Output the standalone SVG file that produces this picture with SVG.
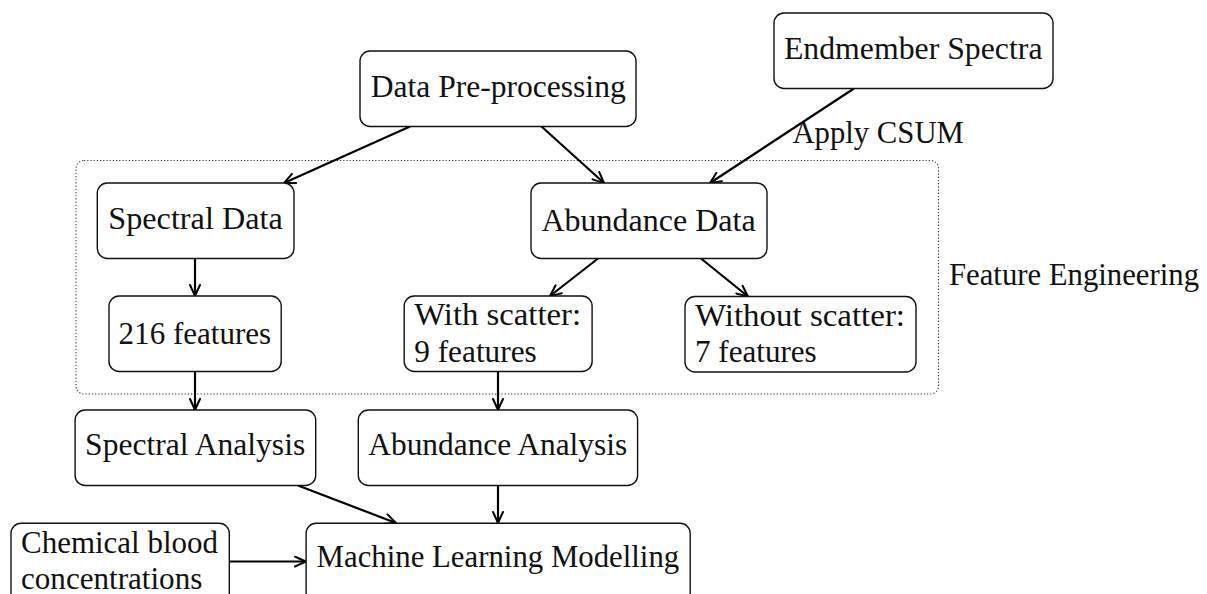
<svg xmlns="http://www.w3.org/2000/svg" width="1207" height="594" viewBox="0 0 1207 594">
  <defs>
    <style>
      .box { fill: #ffffff; stroke: #111111; stroke-width: 1.4; }
      .group { fill: none; stroke: #333333; stroke-width: 1.1; stroke-dasharray: 1.2 2; }
      .lbl { font-family: "Liberation Serif", "Times New Roman", serif; font-size: 32px; fill: #111111; }
      .edge { fill: none; stroke: #000000; stroke-width: 2.2; marker-end: url(#tip); }
    </style>
    <!-- curved-barb arrow tip -->
    <marker id="tip" viewBox="-13 -6 15 12" refX="0" refY="0" markerWidth="15" markerHeight="12" markerUnits="userSpaceOnUse" orient="auto">
      <path d="M -11 -5 Q -3.5 -1.5 0 0 Q -3.5 1.5 -11 5" fill="none" stroke="#000000" stroke-width="2" stroke-linecap="round" stroke-linejoin="round"/>
    </marker>
  </defs>

  <rect id="feature-engineering-frame" class="group" x="76" y="160.5" width="862.5" height="233.5" rx="8" ry="8"/>
  <text id="feature-engineering-label" class="lbl" x="949" y="285" textLength="250" lengthAdjust="spacingAndGlyphs">Feature Engineering</text>

  <g id="connectors">
    <line class="edge" x1="410" y1="126.5" x2="284" y2="183"/>
    <line class="edge" x1="541.5" y1="126.5" x2="604" y2="183"/>
    <line class="edge" x1="854" y1="88.5" x2="710" y2="183"/>
    <line class="edge" x1="195" y1="258.5" x2="195" y2="296"/>
    <line class="edge" x1="598" y1="258.5" x2="550" y2="296"/>
    <line class="edge" x1="701" y1="258.5" x2="748" y2="296.5"/>
    <line class="edge" x1="195" y1="371.5" x2="195" y2="410"/>
    <line class="edge" x1="498" y1="371.5" x2="498" y2="410"/>
    <line class="edge" x1="298" y1="485.5" x2="396" y2="523"/>
    <line class="edge" x1="498" y1="485.5" x2="498" y2="523"/>
    <line class="edge" x1="229" y1="561.5" x2="306" y2="561.5"/>
    <text class="lbl" x="792.4" y="143" textLength="171.5" lengthAdjust="spacingAndGlyphs">Apply CSUM</text>
  </g>

  <g id="data-preprocessing">
    <rect class="box" x="360" y="51" width="276" height="75.5" rx="10" ry="10"/>
    <text class="lbl" x="370.7" y="96.5" textLength="255" lengthAdjust="spacingAndGlyphs">Data Pre-processing</text>
  </g>

  <g id="endmember-spectra">
    <rect class="box" x="774" y="13" width="279" height="75.5" rx="10" ry="10"/>
    <text class="lbl" x="783.9" y="58.5" textLength="258.6" lengthAdjust="spacingAndGlyphs">Endmember Spectra</text>
  </g>

  <g id="spectral-data">
    <rect class="box" x="97.3" y="183" width="196.7" height="75.5" rx="10" ry="10"/>
    <text class="lbl" x="108.3" y="228.5" textLength="174.4" lengthAdjust="spacingAndGlyphs">Spectral Data</text>
  </g>

  <g id="abundance-data">
    <rect class="box" x="531" y="183" width="236" height="75.5" rx="10" ry="10"/>
    <text class="lbl" x="541.5" y="230.5" textLength="214.1" lengthAdjust="spacingAndGlyphs">Abundance Data</text>
  </g>

  <g id="spectral-features">
    <rect class="box" x="109" y="296" width="172.2" height="75.5" rx="10" ry="10"/>
    <text class="lbl" x="118.6" y="344" textLength="152.6" lengthAdjust="spacingAndGlyphs">216 features</text>
  </g>

  <g id="with-scatter">
    <rect class="box" x="404.2" y="296" width="187.9" height="75.5" rx="10" ry="10"/>
    <text class="lbl" x="414.2" y="325" textLength="166.9" lengthAdjust="spacingAndGlyphs">With scatter:</text>
    <text class="lbl" x="414.2" y="361.5" textLength="122.6" lengthAdjust="spacingAndGlyphs">9 features</text>
  </g>

  <g id="without-scatter">
    <rect class="box" x="685" y="296.5" width="231" height="75.5" rx="10" ry="10"/>
    <text class="lbl" x="695" y="325.5" textLength="210" lengthAdjust="spacingAndGlyphs">Without scatter:</text>
    <text class="lbl" x="695" y="361.5" textLength="121.7" lengthAdjust="spacingAndGlyphs">7 features</text>
  </g>

  <g id="spectral-analysis">
    <rect class="box" x="75.1" y="410" width="240.6" height="75.5" rx="10" ry="10"/>
    <text class="lbl" x="85.1" y="455" textLength="220.1" lengthAdjust="spacingAndGlyphs">Spectral Analysis</text>
  </g>

  <g id="abundance-analysis">
    <rect class="box" x="358.3" y="410" width="279.3" height="75.5" rx="10" ry="10"/>
    <text class="lbl" x="368.3" y="455" textLength="258.8" lengthAdjust="spacingAndGlyphs">Abundance Analysis</text>
  </g>

  <g id="ml-modelling">
    <rect class="box" x="306.1" y="523.3" width="384.1" height="80" rx="10" ry="10"/>
    <text class="lbl" x="316.6" y="567.3" textLength="362.6" lengthAdjust="spacingAndGlyphs">Machine Learning Modelling</text>
  </g>

  <g id="chemical-blood">
    <rect class="box" x="11" y="523.3" width="218.3" height="80" rx="10" ry="10"/>
    <text class="lbl" x="21" y="553" textLength="197" lengthAdjust="spacingAndGlyphs">Chemical blood</text>
    <text class="lbl" x="21" y="589" textLength="181.3" lengthAdjust="spacingAndGlyphs">concentrations</text>
  </g>
</svg>
